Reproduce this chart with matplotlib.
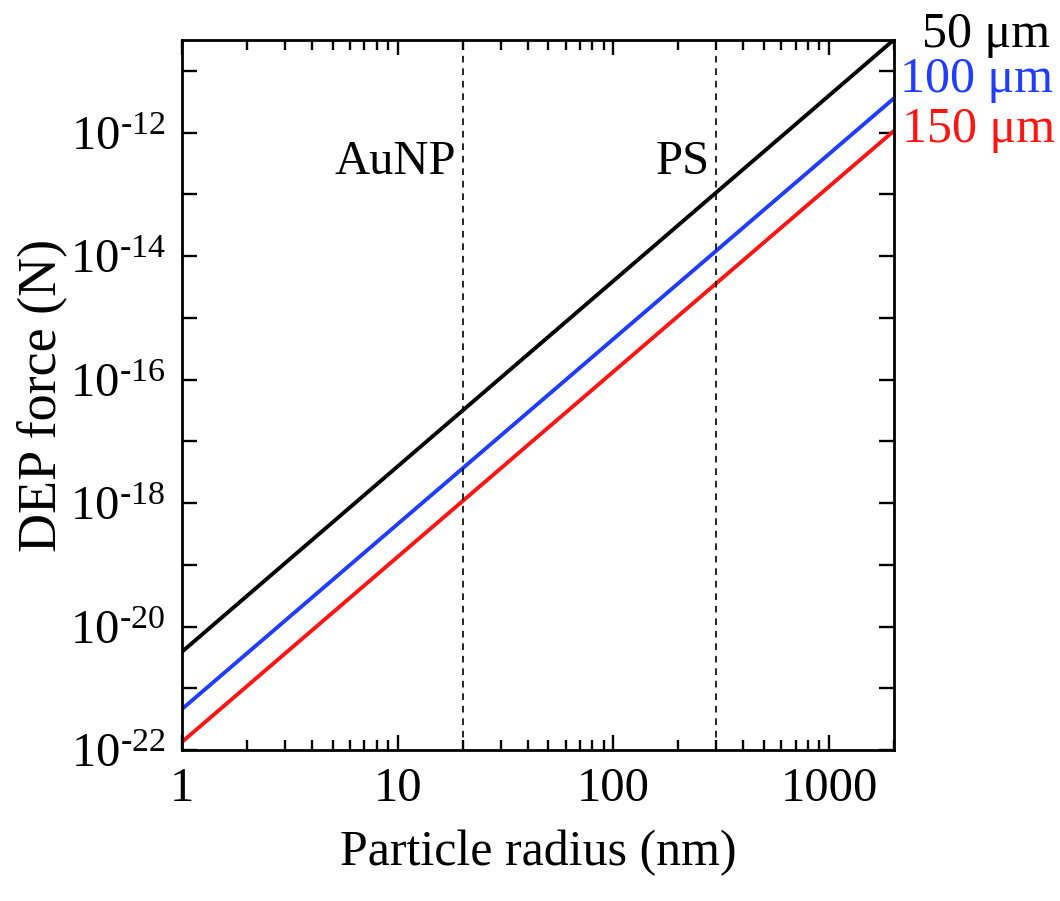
import numpy as np
import matplotlib
matplotlib.use("Agg")
import matplotlib.pyplot as plt
from matplotlib.ticker import FixedLocator, FuncFormatter, LogLocator, NullFormatter
import matplotlib.transforms as mtransforms

plt.rcParams['font.family'] = ['Liberation Serif', 'DejaVu Serif']
plt.rcParams['mathtext.fontset'] = 'custom'
plt.rcParams['mathtext.rm'] = 'Liberation Serif'
plt.rcParams['mathtext.it'] = 'Liberation Serif:italic'

# radius (nm) at the ends of each line, force (N)
radius = [1, 2000]
force_50 = [3.9e-21, 3.2e-11]
force_100 = [4.6e-22, 3.6e-12]
force_150 = [1.35e-22, 1.07e-12]

series = [("50 μm", force_50, "black"),
          ("100 μm", force_100, "#1f3cff"),
          ("150 μm", force_150, "#ff1414")]

markers_x = [20, 300]
marker_names = ["AuNP", "PS"]

fig = plt.figure(figsize=(10.6, 9.01), dpi=100)
ax = fig.add_axes([0.1717, 0.1676, 0.6717, 0.7880])

for name, vals, col in series:
    ax.plot(radius, vals, color=col, lw=2.8)

for xv in markers_x:
    ax.axvline(xv, color='black', lw=1.2, ls=(0, (4, 3.5)))

ax.set_xscale('log')
ax.set_yscale('log')
ax.set_xlim(1, 2000)
ax.set_ylim(1e-22, 10**-10.5)

ax.xaxis.set_major_locator(FixedLocator([1, 10, 100, 1000]))
ax.xaxis.set_major_formatter(FuncFormatter(lambda v, p: "%d" % round(v)))
ax.xaxis.set_minor_locator(LogLocator(base=10, subs=np.arange(2, 10)))
ax.xaxis.set_minor_formatter(NullFormatter())

ydec = np.arange(-22, -10)
ax.yaxis.set_major_locator(FixedLocator(10.0 ** ydec))
ax.yaxis.set_minor_locator(FixedLocator([]))


def yfmt(v, p):
    e = int(round(np.log10(v)))
    if e % 2:
        return ""
    return "$\\mathrm{10^{\u2010%d}}$" % (-e)


ax.yaxis.set_major_formatter(FuncFormatter(yfmt))

ax.tick_params(which='both', direction='in', top=True, right=True, width=1.7)
ax.tick_params(which='major', length=11, labelsize=35, pad=12)
ax.tick_params(which='minor', length=7)
for s in ax.spines.values():
    s.set_linewidth(2.0)

ax.set_xlabel("Particle radius (nm)", fontsize=36, labelpad=14)
ax.set_ylabel("DEP force (N)", fontsize=39, labelpad=2)

trans = mtransforms.blended_transform_factory(ax.transData, ax.transAxes)
for xv, name in zip(markers_x, marker_names):
    ax.annotate(name, xy=(xv, 0.828), xycoords=trans, xytext=(-5, 0),
                textcoords='offset points', ha='right', va='center', fontsize=35)

label_pos = [(1.039, 1.007), (1.008, 0.944), (1.011, 0.873)]
for (name, vals, col), (lx, ly) in zip(series, label_pos):
    ax.text(lx, ly, name, transform=ax.transAxes, color=col, fontsize=36,
            ha='left', va='center', clip_on=False)

fig.savefig("out.png", dpi=100)
